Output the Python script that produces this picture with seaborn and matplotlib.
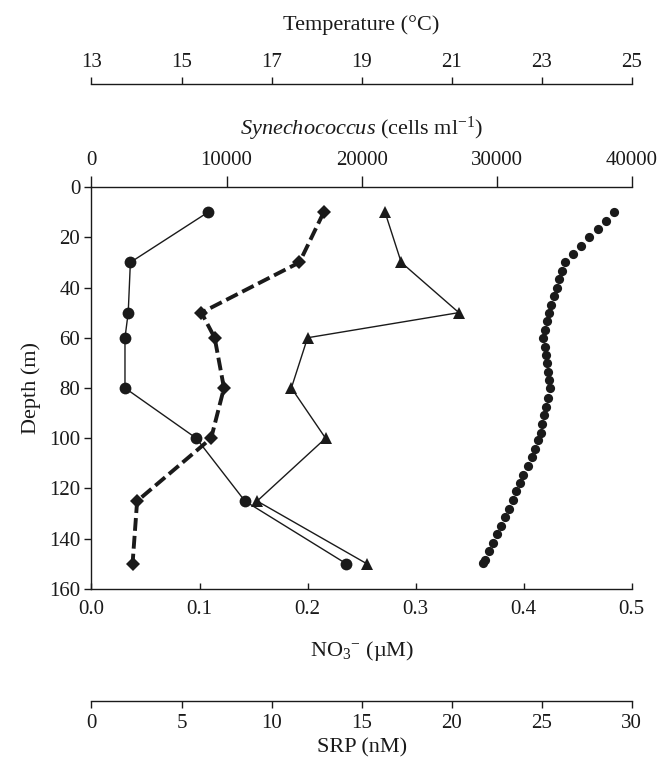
import matplotlib
matplotlib.use("Agg")
import matplotlib.pyplot as plt
import seaborn as sns
import pandas as pd

# ---- data ----
depth_stations = [10, 30, 50, 60, 80, 100, 125, 150]
no3_uM = [0.108, 0.036, 0.034, 0.031, 0.031, 0.097, 0.142, 0.236]
synechococcus = [17200, 15400, 8140, 9120, 9810, 8860, 3380, 3040]
srp_nM = [16.3, 17.2, 20.4, 12.0, 11.1, 13.0, 9.2, 15.3]

temp_depth = [10.0, 13.4, 16.8, 20.0, 23.5, 26.8, 30.0, 33.3, 36.7, 40.0, 43.4,
              46.8, 50.0, 53.5, 56.8, 60.0, 63.6, 66.9, 70.2, 73.6, 76.8, 80.1,
              84.1, 87.4, 90.7, 94.3, 97.8, 100.7, 104.2, 107.6, 111.0, 114.5,
              117.7, 121.0, 124.4, 128.0, 131.3, 134.8, 138.1, 141.6, 144.9,
              148.5, 149.8]
temperature_C = [24.61, 24.42, 24.24, 24.06, 23.87, 23.69, 23.52, 23.45, 23.39,
                 23.33, 23.27, 23.21, 23.16, 23.12, 23.07, 23.04, 23.07, 23.10,
                 23.12, 23.15, 23.17, 23.18, 23.14, 23.10, 23.05, 23.01, 22.98,
                 22.92, 22.86, 22.78, 22.69, 22.59, 22.52, 22.44, 22.36, 22.27,
                 22.18, 22.09, 22.00, 21.91, 21.83, 21.74, 21.70]

no3_ticks = [0.0, 0.1, 0.2, 0.3, 0.4, 0.5]
syn_ticks = [0, 10000, 20000, 30000, 40000]
temp_ticks = [13, 15, 17, 19, 21, 23, 25]
srp_ticks = [0, 5, 10, 15, 20, 25, 30]
depth_ticks = [0, 20, 40, 60, 80, 100, 120, 140, 160]

# ---- style ----
sns.set_theme(style="white")
plt.rcParams['font.family'] = ['Liberation Serif', 'DejaVu Serif']
plt.rcParams['mathtext.fontset'] = 'custom'
plt.rcParams['mathtext.rm'] = 'Liberation Serif'
plt.rcParams['mathtext.it'] = 'Liberation Serif:italic'
plt.rcParams['axes.linewidth'] = 1.0
TICK_FS = 15
LAB_FS = 16
INK = '#1a1a1a'

df_st = pd.DataFrame({'depth': depth_stations, 'no3': no3_uM,
                      'syn': synechococcus, 'srp': srp_nM})
df_t = pd.DataFrame({'depth': temp_depth, 'temp': temperature_C})

fig = plt.figure(figsize=(6.61, 7.68), dpi=100)
ax = fig.add_axes([0.1384, 0.2331, 0.8173, 0.5234])

ax_syn = ax.twiny()
ax_temp = ax.twiny()
ax_srp = ax.twiny()

# NO3 (circles, solid)
sns.lineplot(data=df_st, x='no3', y='depth', ax=ax, sort=False, estimator=None,
             color=INK, lw=1.0, marker='o', markersize=8.5, markeredgewidth=0,
             markerfacecolor=INK)
# Synechococcus (diamonds, thick dashed)
sns.lineplot(data=df_st, x='syn', y='depth', ax=ax_syn, sort=False, estimator=None,
             color=INK, lw=2.8, marker='D', markersize=7.5, markeredgewidth=0,
             markerfacecolor=INK, linestyle=(0, (3.3, 1.3)))
# SRP (triangles, solid)
sns.lineplot(data=df_st, x='srp', y='depth', ax=ax_srp, sort=False, estimator=None,
             color=INK, lw=1.0, marker='^', markersize=8.5, markeredgewidth=0,
             markerfacecolor=INK)
# Temperature (dots)
sns.scatterplot(data=df_t, x='temp', y='depth', ax=ax_temp, color=INK, s=44,
                linewidth=0)

for a in (ax, ax_syn, ax_temp, ax_srp):
    a.set_ylim(160, 0)
    a.set_facecolor('none')
    for s in a.spines.values():
        s.set_visible(False)
        s.set_color(INK)
    a.grid(False)

# main axes
ax.set_xlim(0, 0.5)
ax.set_xticks(no3_ticks)
ax.set_xticklabels([f"{v:.1f}" for v in no3_ticks])
ax.set_yticks(depth_ticks)
ax.set_yticklabels([str(v) for v in depth_ticks])
ax.spines['left'].set_visible(True)
ax.spines['bottom'].set_visible(True)
ax.tick_params(axis='x', direction='in', length=4, width=1, colors=INK,
               labelsize=TICK_FS, pad=8)
ax.tick_params(axis='y', direction='out', length=5, width=1, colors=INK,
               labelsize=TICK_FS, pad=3, left=True)
ax.set_xlabel("NO$_3$$^{-}$ (µM)", fontsize=LAB_FS, color=INK, labelpad=14)
ax.set_ylabel("Depth (m)", fontsize=LAB_FS, color=INK, labelpad=6)

# Synechococcus axis (top spine)
ax_syn.set_xlim(0, 40000)
ax_syn.set_xticks(syn_ticks)
ax_syn.spines['top'].set_visible(True)
ax_syn.xaxis.set_ticks_position('top')
ax_syn.xaxis.set_label_position('top')
ax_syn.tick_params(axis='x', direction='out', length=8, width=1, colors=INK,
                   labelsize=TICK_FS, pad=4)
ax_syn.set_xlabel(r"$\it{Synechococcus}$ (cells ml$^{-1}$)", fontsize=LAB_FS,
                  color=INK, labelpad=12)

# Temperature axis (offset top)
ax_temp.set_xlim(13, 25)
ax_temp.set_xticks(temp_ticks)
ax_temp.spines['top'].set_visible(True)
ax_temp.spines['top'].set_position(('axes', 1.256))
ax_temp.xaxis.set_ticks_position('top')
ax_temp.xaxis.set_label_position('top')
ax_temp.tick_params(axis='x', direction='out', length=5, width=1, colors=INK,
                    labelsize=TICK_FS, pad=4)
ax_temp.set_xlabel("Temperature (°C)", fontsize=LAB_FS, color=INK, labelpad=16)

# SRP axis (offset bottom)
ax_srp.set_xlim(0, 30)
ax_srp.set_xticks(srp_ticks)
ax_srp.spines['bottom'].set_visible(True)
ax_srp.spines['bottom'].set_position(('axes', -0.279))
ax_srp.xaxis.set_ticks_position('bottom')
ax_srp.xaxis.set_label_position('bottom')
ax_srp.tick_params(axis='x', direction='out', length=5, width=1, colors=INK,
                   labelsize=TICK_FS, pad=4)
ax_srp.set_xlabel("SRP (nM)", fontsize=LAB_FS, color=INK, labelpad=4)

ax.set_ylim(160, 0)
fig.savefig("out.png", dpi=100)
